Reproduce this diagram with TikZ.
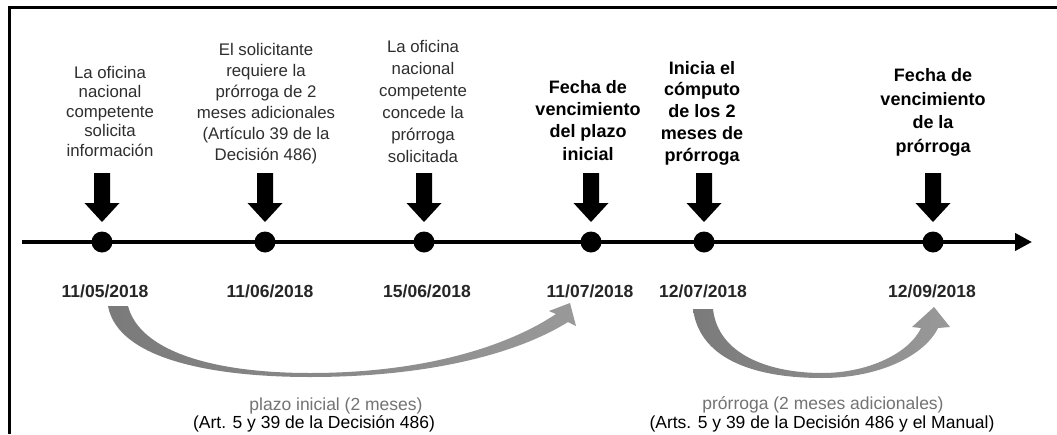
\documentclass[tikz,border=0pt]{standalone}
\usepackage{fontspec}
\setmainfont{Liberation Sans}
\usetikzlibrary{arrows.meta}
\begin{document}
\begin{tikzpicture}[x=1pt,y=-1pt,
  desc/.style={anchor=base,inner sep=0pt,text=black!82},
  descb/.style={anchor=base,inner sep=0pt,text=black},
  dot/.style={circle,fill=black,minimum size=21pt,inner sep=0pt},
  datelbl/.style={anchor=base,inner sep=0pt,text=black!85,font=\fontsize{17.5}{20}\selectfont\bfseries},
  lblgray/.style={anchor=base,inner sep=0pt,text=black!55,font=\fontsize{17.5}{20}\selectfont},
  lbl/.style={anchor=base,inner sep=0pt,text=black,font=\fontsize{17.5}{20}\selectfont},
  curvefill/.style={left color=black!52,right color=black!40,draw=none}]
\useasboundingbox (0,0) rectangle (1057,434);
\fill[white] (0,0) rectangle (1057,434);
% frame
\draw[line width=3.5pt] (9.5,434) -- (9.5,7.5) -- (1057,7.5);
% timeline
\coordinate (tl0) at (22,242);
\coordinate (tl1) at (1032,242);
\draw[line width=4pt,-{Triangle[length=17pt,width=17pt]}] (tl0) -- (tl1);
% dots
\foreach \n/\x in {1/102,2/265,3/424,4/591,5/704,6/933}
  \node[dot] (d\n) at (\x,242) {};
% down block arrows
\foreach \n in {1,...,6}
  \fill[shift={(d\n.center)}] (-8,-69) -- (8,-69) -- (8,-39) -- (17.5,-39) -- (0,-20) -- (-17.5,-39) -- (-8,-39) -- cycle;
% descriptions
\node[desc,font=\fontsize{16.8}{19.5}\selectfont] (t1) at (110,156)
  {\begin{tabular}[b]{@{}c@{}}La oficina\\nacional\\competente\\solicita\\información\end{tabular}};
\node[desc,font=\fontsize{16.8}{21}\selectfont] (t2) at (266,160)
  {\begin{tabular}[b]{@{}c@{}}El solicitante\\requiere la\\prórroga de 2\\meses adicionales\\(Artículo 39 de la\\Decisión 486)\end{tabular}};
\node[desc,font=\fontsize{16.8}{22}\selectfont] (t3) at (423,162)
  {\begin{tabular}[b]{@{}c@{}}La oficina\\nacional\\competente\\concede la\\prórroga\\solicitada\end{tabular}};
\node[descb,font=\fontsize{18}{22.3}\selectfont\bfseries] (t4) at (588,160)
  {\begin{tabular}[b]{@{}c@{}}Fecha de\\vencimiento\\del plazo\\inicial\end{tabular}};
\node[descb,font=\fontsize{18}{21.7}\selectfont\bfseries] (t5) at (702,161)
  {\begin{tabular}[b]{@{}c@{}}Inicia el\\cómputo\\de los 2\\meses de\\prórroga\end{tabular}};
\node[descb,font=\fontsize{18}{23.5}\selectfont\bfseries] (t6) at (933,152)
  {\begin{tabular}[b]{@{}c@{}}Fecha de\\vencimiento\\de la\\prórroga\end{tabular}};
% dates
\node[datelbl] (dt1) at (105,297) {11/05/2018};
\node[datelbl] (dt2) at (270,297) {11/06/2018};
\node[datelbl] (dt3) at (427,297) {15/06/2018};
\node[datelbl] (dt4) at (590,297) {11/07/2018};
\node[datelbl] (dt5) at (703,297) {12/07/2018};
\node[datelbl] (dt6) at (932,297) {12/09/2018};
% curved arrows
\path[curvefill] (108,306) .. controls (118,360) and (215,377) .. (310,377)
  .. controls (425,377) and (515,355) .. (568,322)
  -- (576,326) -- (570,303) -- (549,311) -- (556,314)
  .. controls (505,348) and (420,373) .. (310,373)
  .. controls (215,373) and (140,352) .. (128,306) -- cycle;
\path[curvefill] (693,309) .. controls (700,362) and (760,378) .. (822,378)
  .. controls (880,378) and (925,355) .. (938,328)
  -- (950,327) -- (934,307) -- (912,327) -- (921,328)
  .. controls (910,352) and (870,373) .. (822,373)
  .. controls (770,373) and (718,355) .. (713,309) -- cycle;
% bottom labels
\node[lblgray] (l1a) at (336,410) {plazo inicial (2 meses)};
\node[lbl] (l1b) at (314,428) {(Art. 5 y 39 de la Decisión 486)};
\node[lblgray] (l2a) at (823,409) {prórroga (2 meses adicionales)};
\node[lbl] (l2b) at (822,428) {(Arts. 5 y 39 de la Decisión 486 y el Manual)};
\end{tikzpicture}
\end{document}
